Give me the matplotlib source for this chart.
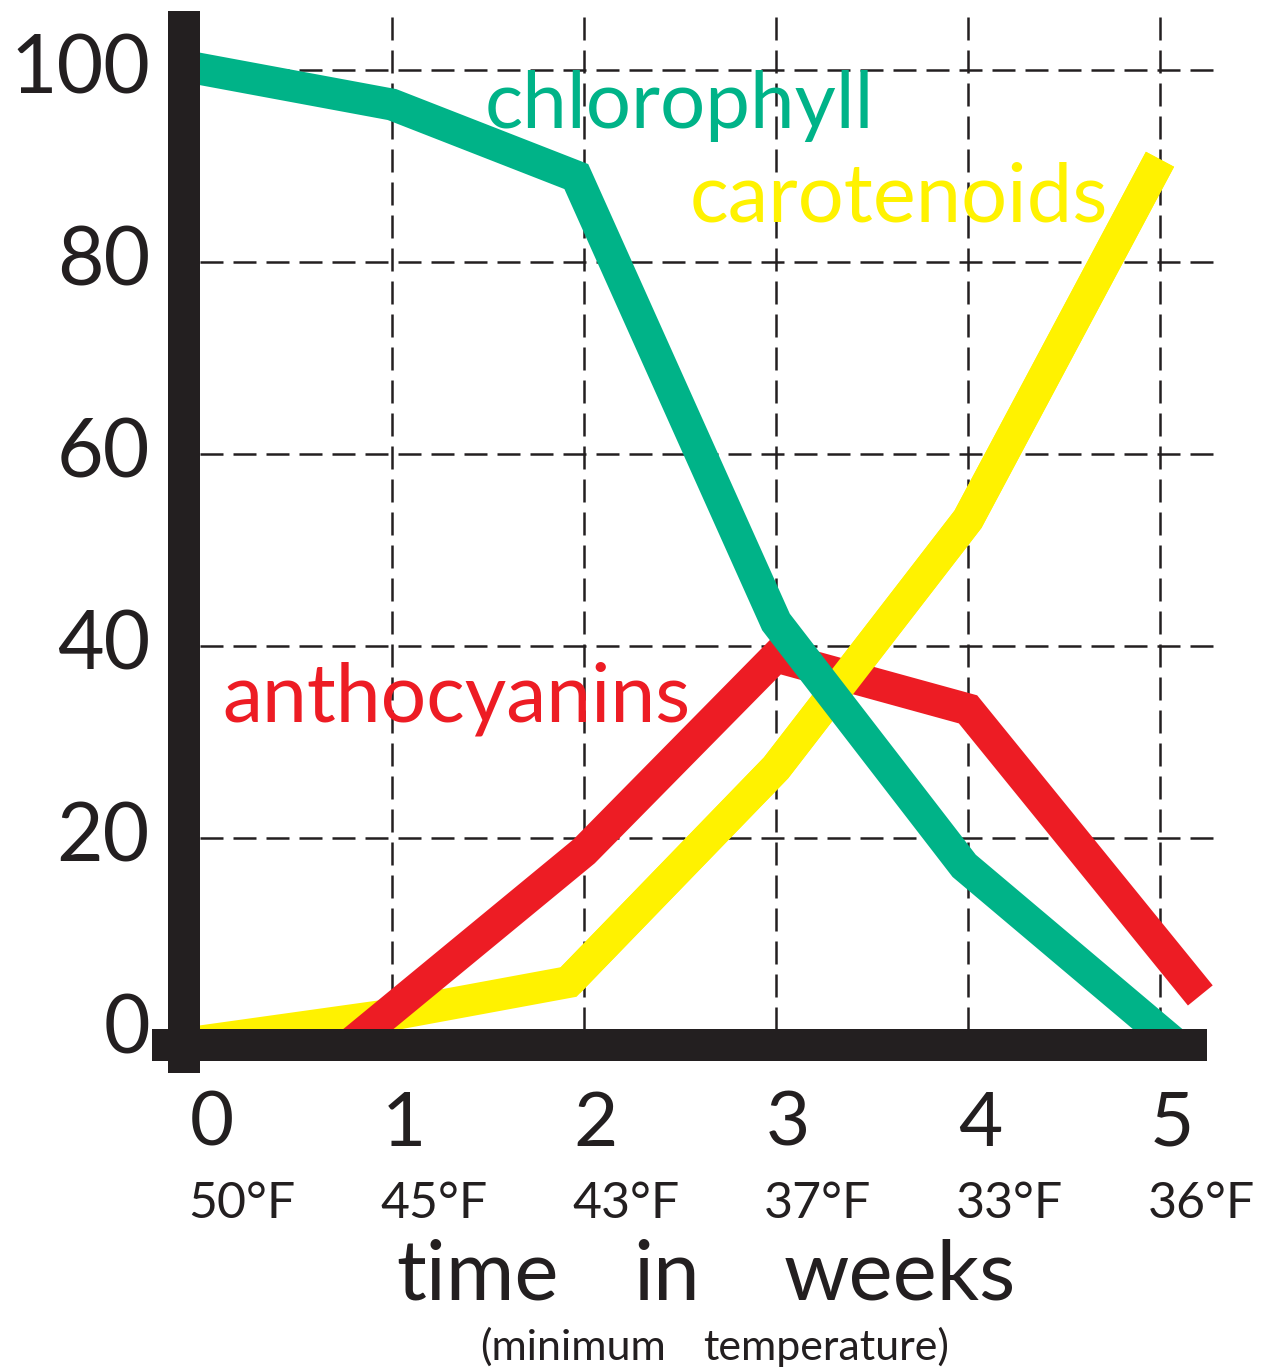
import matplotlib
matplotlib.use("Agg")
import matplotlib.pyplot as plt
from matplotlib.patches import Rectangle

# ---- data ----
chl_x = [-0.05, 1.0, 1.96, 3.0, 3.98, 5.1]
chl_y = [100.3, 96.4, 88.9, 42.5, 17.1, -1.8]
car_x = [0.0, 1.0, 1.92, 3.0, 4.0, 5.0]
car_y = [-1.2, 1.6, 5.0, 27.3, 53.2, 90.7]
ant_x = [0.78, 2.0, 3.0, 4.0, 5.21]
ant_y = [-1.5, 18.6, 38.9, 33.4, 3.6]

week_ticks = [0, 1, 2, 3, 4, 5]
week_labels = ["0", "1", "2", "3", "4", "5"]
temp_labels = ["50°F", "45°F", "43°F", "37°F", "33°F", "36°F"]
y_ticks = [0, 20, 40, 60, 80, 100]
y_labels = ["0", "20", "40", "60", "80", "100"]

GREEN = "#00b388"
YELLOW = "#fff200"
RED = "#ed1c24"
BLACK = "#231f20"
FONT = "Lato"

W, H = 1274, 1370
fig = plt.figure(figsize=(W / 100, H / 100), dpi=100)
# pixel mapping: x=0 -> 200px, 192 px/unit ; y=0 -> 1030px, 9.6 px/unit
XMAX, YMAX = 5.28, 106.0
ax = fig.add_axes([200 / W, (H - 1030) / H, XMAX * 192 / W, YMAX * 9.6 / H])
ax.set_xlim(0, XMAX)
ax.set_ylim(0, YMAX)
ax.axis("off")


def px(x):
    return (x - 200) / 192


def py(y):
    return (1030 - y) / 9.6


# dashed grid
for yv in y_ticks[1:]:
    ax.axhline(yv, color=BLACK, lw=1.8, dashes=(9.2, 4.0), zorder=1)
for xv in week_ticks[1:]:
    ax.axvline(xv, color=BLACK, lw=1.8, dashes=(9.2, 4.0), zorder=1)

LW = 23
kw = dict(solid_joinstyle="miter", solid_capstyle="butt", clip_on=False)
ax.plot(car_x, car_y, color=YELLOW, lw=LW, zorder=3, **kw)
ax.plot(ant_x, ant_y, color=RED, lw=LW, zorder=4, **kw)
ax.plot(car_x[2:], car_y[2:], color=YELLOW, lw=LW, zorder=5, **kw)
ax.plot(chl_x, chl_y, color=GREEN, lw=LW, zorder=6, **kw)

# thick axis bars
ax.add_patch(Rectangle((px(168), py(1073)), 32 / 192, (1073 - 11) / 9.6,
                       color=BLACK, clip_on=False, zorder=10, lw=0))
ax.add_patch(Rectangle((px(152), py(1061)), (1207 - 152) / 192, 32 / 9.6,
                       color=BLACK, clip_on=False, zorder=10, lw=0))

# y tick labels
for yv, lab in zip(y_ticks, y_labels):
    ax.text(px(150), yv, lab, ha="right", va="center", fontsize=58,
            family=FONT, color=BLACK, clip_on=False)

# x tick labels and temperatures
for xv, lab, tl in zip(week_ticks, week_labels, temp_labels):
    ax.text(xv + 12 / 192, py(1146), lab, ha="center", va="baseline", fontsize=55,
            family=FONT, color=BLACK, clip_on=False)
    ax.text(xv - 12 / 192, py(1218), tl, ha="left", va="baseline", fontsize=36,
            family=FONT, color=BLACK, clip_on=False)

# axis title (words placed as in the reference)
for word, cx in [("time", 477), ("in", 667), ("weeks", 900)]:
    ax.text(px(cx), py(1300), word, ha="center", va="baseline",
            fontsize=60, family=FONT, color=BLACK, clip_on=False)
for word, cx in [("(minimum", 573), ("temperature)", 826)]:
    ax.text(px(cx), py(1360), word, ha="center", va="baseline",
            fontsize=31, family=FONT, color=BLACK, clip_on=False)

# series labels
ax.text(px(485), py(128), "chlorophyll", ha="left",
        va="baseline", fontsize=57.5, family=FONT, color=GREEN, zorder=7)
ax.text(px(690), py(222), "carotenoids", ha="left",
        va="baseline", fontsize=58.5, family=FONT, color=YELLOW, zorder=7)
ax.text(px(222), py(722), "anthocyanins", ha="left",
        va="baseline", fontsize=58, family=FONT, color=RED, zorder=7)

fig.savefig("out.png", dpi=100, facecolor="white")
